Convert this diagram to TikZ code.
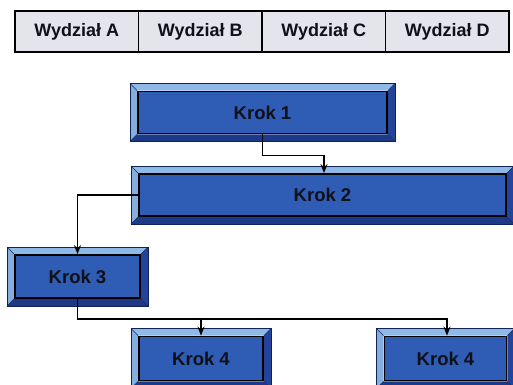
\documentclass[tikz,border=0pt]{standalone}
\usepackage{fontspec}
\setmainfont{Liberation Sans}
\usetikzlibrary{calc,arrows.meta,backgrounds}
\definecolor{face}{HTML}{2F5CB4}
\definecolor{bevlight}{HTML}{8FB9E6}
\definecolor{bevlight2}{HTML}{84AEDF}
\definecolor{bevdark}{HTML}{23449A}
\definecolor{bevdark2}{HTML}{1D3A88}
\definecolor{hdrfill}{HTML}{E3E5EB}
\definecolor{ink}{HTML}{101018}
\tikzset{
  hdr/.style={draw=black, line width=1.5pt, fill=hdrfill, minimum height=41pt,
    minimum width=123.5pt, inner sep=0pt, text=ink,
    font=\fontsize{18}{20}\selectfont\bfseries},
  kbox/.style={draw=black, line width=1.8pt, fill=face, inner sep=0pt, text=ink,
    font=\fontsize{18.5}{20}\selectfont\bfseries},
  conn/.style={line width=1.8pt, black},
  arr/.style={conn, -{Stealth[length=9pt,width=7pt]}}
}
\newcommand\bevbox[6]{%
  \node[kbox, minimum width=#4pt, minimum height=#5pt] (#1) at (#2,#3) {#6};
  \begin{scope}[on background layer]
    \coordinate (#1-onw) at ($(#1.north west)+(-7pt,7pt)$);
    \coordinate (#1-one) at ($(#1.north east)+(7pt,7pt)$);
    \coordinate (#1-ose) at ($(#1.south east)+(7pt,-7pt)$);
    \coordinate (#1-osw) at ($(#1.south west)+(-7pt,-7pt)$);
    \fill[bevlight] (#1-onw) -- (#1-one) -- (#1.north east) -- (#1.north west) -- cycle;
    \fill[bevlight2] (#1-onw) -- (#1.north west) -- (#1.south west) -- (#1-osw) -- cycle;
    \fill[bevdark] (#1-one) -- (#1-ose) -- (#1.south east) -- (#1.north east) -- cycle;
    \fill[bevdark2] (#1-osw) -- (#1-ose) -- (#1.south east) -- (#1.south west) -- cycle;
    \draw[line width=0.5pt, bevdark2!70!black] (#1-onw) -- (#1.north west) (#1-one) -- (#1.north east)
      (#1-ose) -- (#1.south east) (#1-osw) -- (#1.south west);
    \draw[line width=0.7pt, bevdark2!60!black] (#1-onw) rectangle (#1-ose);
  \end{scope}
}
\begin{document}
\begin{tikzpicture}[x=1pt,y=-1pt]
\useasboundingbox (0,0) rectangle (513,384);
\clip (0,0) rectangle (513,384);
% header
\node[hdr] (h1) at (76.75,31.5) {Wydział A};
\node[hdr] (h2) at (200.25,31.5) {Wydział B};
\node[hdr] (h3) at (323.75,31.5) {Wydział C};
\node[hdr] (h4) at (447.25,31.5) {Wydział D};
% boxes
\bevbox{k1}{262.5}{112.5}{249}{42}{Krok 1}
\bevbox{k2}{322.5}{195}{367}{42}{Krok 2}
\bevbox{k3}{77.5}{276.5}{125}{43}{Krok 3}
\bevbox{k4a}{201}{358.5}{124}{44}{Krok 4}
\bevbox{k4b}{445.5}{358.5}{122}{44}{Krok 4}
% connectors
\coordinate (c1) at ($(k1.south)+(0,-21pt)$);
\draw[arr] (k1.south) -- (c1) -| ($(k2.north)+(1.5,0)$);
\draw[arr] (k2.west) -| (k3.north);
\coordinate (j) at ($(k3.south)+(0,-20pt)$);
\draw[arr] (k3.south) -- (j) -| ($(k4b.north)+(1.5,0)$);
\draw[arr] (k4a.north |- j) -- (k4a.north);
\end{tikzpicture}
\end{document}
